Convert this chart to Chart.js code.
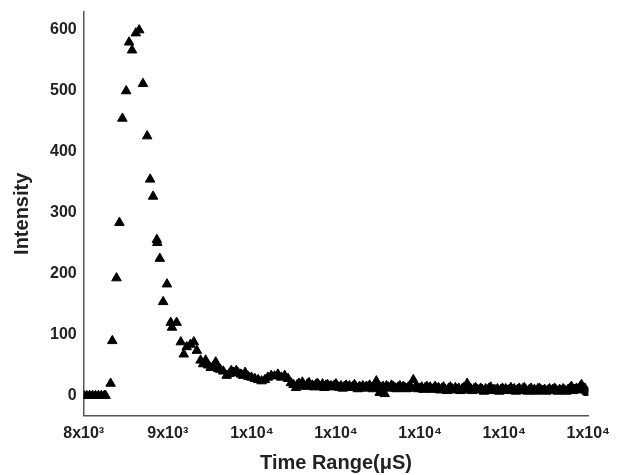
<!DOCTYPE html>
<html>
<head>
<meta charset="utf-8">
<script src="https://cdn.jsdelivr.net/npm/chart.js@4/dist/chart.umd.min.js"></script>
<style>
  html, body { margin: 0; padding: 0; background: #fff; }
  #wrap { width: 618px; height: 475px; position: relative; }
</style>
</head>
<body>
<div id="wrap"><canvas id="myChart"></canvas></div>
<script>
// time (µs) and intensity, row by row
const timeValues = [
  8000, 8035, 8070, 8105, 8140, 8175, 8210, 8245, 8260, 8320,
  8340, 8390, 8425, 8460, 8505, 8540, 8575, 8620, 8660, 8705,
  8755, 8790, 8825, 8870, 8875, 8905, 8945, 8990, 9035, 9050,
  9105, 9155, 9190, 9225, 9270, 9310, 9345, 9390, 9420, 9450,
  9480, 9510, 9540, 9570, 9600, 9625, 9660, 9700, 9730, 9755,
  9785, 9815, 9840, 9870, 9895, 9920, 9960, 9995, 10035, 10075,
  10115, 10155, 10190, 10230, 10270, 10310, 10350, 10390, 10430, 10465,
  10495, 10525, 10540, 10560, 10580, 10600, 10620, 10640, 10660, 10680,
  10700, 10720, 10740, 10760, 10780, 10800, 10820, 10840, 10860, 10880,
  10900, 10920, 10940, 10960, 10980, 11000, 11020, 11040, 11060, 11080,
  11100, 11120, 11140, 11160, 11180, 11200, 11220, 11240, 11260, 11280,
  11300, 11320, 11340, 11360, 11380, 11400, 11420, 11440, 11460, 11480,
  11500, 11520, 11540, 11560, 11580, 11600, 11620, 11640, 11660, 11680,
  11700, 11720, 11740, 11760, 11780, 11800, 11820, 11840, 11860, 11880,
  11900, 11920, 11940, 11960, 11980, 12000, 12020, 12040, 12060, 12080,
  12100, 12120, 12140, 12160, 12180, 12200, 12220, 12240, 12260, 12280,
  12300, 12320, 12340, 12360, 12380, 12400, 12420, 12440, 12460, 12480,
  12500, 12520, 12540, 12560, 12580, 12600, 12620, 12640, 12660, 12680,
  12700, 12720, 12740, 12760, 12780, 12800, 12820, 12840, 12860, 12880,
  12900, 12920, 12940, 12960, 12980, 13000, 13020, 13040, 13060, 13080,
  13100, 13120, 13140, 13160, 13180, 13200, 13220, 13240, 13260, 13280,
  13300, 13320, 13340, 13360, 13380, 13400, 13420, 13440, 13460, 13480,
  13500, 13520, 13540, 13560, 13580, 13600, 13620, 13640, 13660, 13680,
  13700, 13720, 13740, 13760, 13780, 13800, 13820, 13840, 13860, 13880,
  13900, 13920, 13940, 13960, 13980, 14000
];
const intensity = [
  0, 0, 0, 0, 0, 0, 0, 0, 0, 20,
  90, 193, 284, 455, 500, 580, 567, 595, 600, 512,
  426, 355, 327, 256, 251, 225, 154, 183, 120, 112,
  120, 88, 68, 80, 84, 88, 74, 58, 52, 58,
  50, 46, 48, 55, 44, 43, 40, 33, 36, 41,
  38, 41, 37, 35, 33, 38, 31, 30, 28, 26,
  24, 26, 30, 33, 32, 35, 30, 33, 28, 21,
  18, 13, 18, 20, 16, 22, 17, 15, 19, 21,
  16, 17, 14, 18, 20, 16, 15, 19, 13, 17,
  18, 15, 16, 14, 17, 19, 15, 13, 16, 12,
  15, 17, 14, 16, 13, 15, 18, 14, 11, 15,
  13, 16, 12, 15, 14, 17, 13, 11, 15, 24,
  14, 5, 13, 15, 3, 16, 14, 12, 17, 15,
  13, 11, 14, 16, 12, 15, 13, 11, 14, 16,
  12, 26, 13, 15, 11, 12, 14, 10, 13, 15,
  12, 14, 10, 12, 15, 11, 13, 9, 12, 14,
  10, 8, 12, 14, 11, 9, 13, 10, 12, 8,
  11, 13, 10, 20, 9, 12, 8, 11, 13, 10,
  9, 12, 10, 7, 11, 9, 12, 14, 8, 10,
  9, 11, 7, 10, 12, 9, 11, 8, 10, 13,
  9, 11, 7, 10, 12, 8, 11, 13, 9, 7,
  10, 12, 8, 10, 7, 11, 12, 9, 8, 10,
  7, 9, 11, 8, 10, 12, 9, 7, 10, 8,
  11, 9, 7, 10, 12, 15, 8, 10, 12, 9,
  14, 18, 10, 12, 7, 5
];
const xTicks = [8000, 9000, 10000, 11000, 12000, 13000, 14000];
const xTickLabels = ["8x10\u00B3", "9x10\u00B3", "1x10\u2074", "1x10\u2074", "1x10\u2074", "1x10\u2074", "1x10\u2074"];
const yTicks = [0, 100, 200, 300, 400, 500, 600];

const points = timeValues.map((t, i) => ({ x: t, y: intensity[i] }));

const ctx = document.getElementById("myChart").getContext("2d");
const myChart = new Chart(ctx, {
  type: "scatter",
  data: {
    datasets: [
      {
        label: "Intensity",
        data: points,
        pointStyle: "triangle",
        pointRadius: 5.5,
        backgroundColor: "#000",
        borderColor: "#000",
        borderWidth: 1,
      },
    ],
  },
  options: {
    responsive: true,
    maintainAspectRatio: false,
    animation: false,
    layout: { padding: { left: 4, right: -6, top: 0, bottom: 0 } },
    plugins: { legend: { display: false }, tooltip: { enabled: false } },
    scales: {
      x: {
        type: "linear",
        min: 8000,
        max: 14000,
        afterBuildTicks: (axis) => { axis.ticks = xTicks.map((v) => ({ value: v })); },
        grid: { display: false, drawTicks: false },
        border: { display: true, color: "#555", width: 1.5 },
        ticks: {
          padding: 8,
          color: "#222",
          font: { family: "Liberation Sans, Arial", size: 16, weight: "bold" },
          callback: (v) => xTickLabels[xTicks.indexOf(v)],
          maxRotation: 0,
        },
        title: {
          display: true,
          text: "Time Range(\u03BCS)",
          color: "#222",
          font: { family: "Liberation Sans, Arial", size: 20, weight: "bold" },
          padding: { top: 0, bottom: 0 },
        },
      },
      y: {
        min: -33,
        max: 630,
        afterBuildTicks: (axis) => { axis.ticks = yTicks.map((v) => ({ value: v })); },
        grid: { display: false, drawTicks: false },
        border: { display: true, color: "#555", width: 1.5 },
        ticks: {
          padding: 7,
          color: "#222",
          font: { family: "Liberation Sans, Arial", size: 16, weight: "bold", lineHeight: 0.6 },
        },
        title: {
          display: true,
          text: "Intensity",
          color: "#222",
          font: { family: "Liberation Sans, Arial", size: 20, weight: "bold" },
          padding: { top: 6, bottom: 9 },
        },
      },
    },
  },
});
</script>
</body>
</html>
